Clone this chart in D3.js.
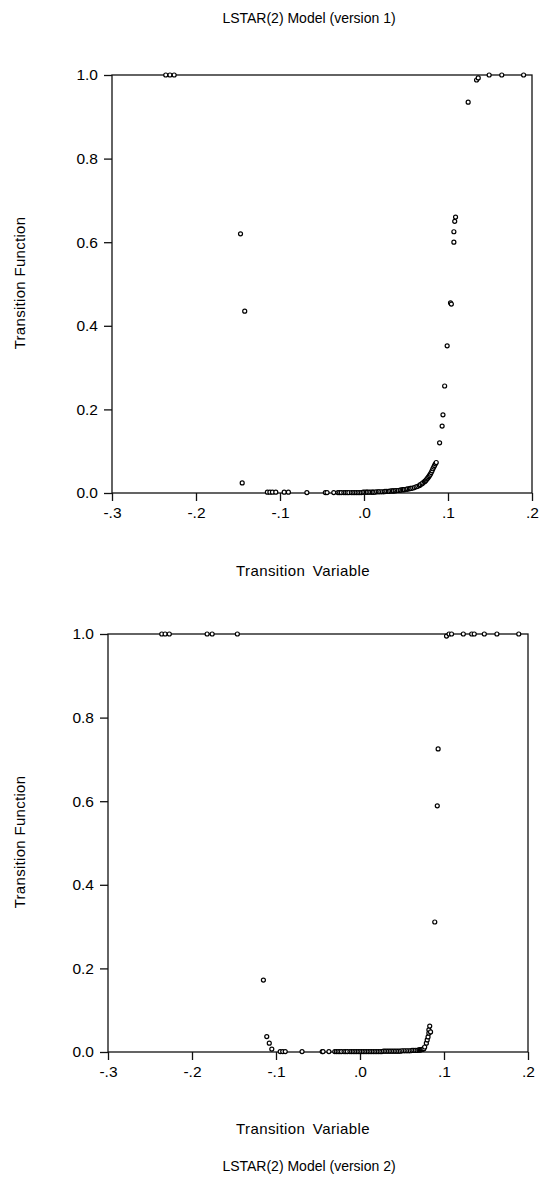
<!DOCTYPE html>
<html>
<head>
<meta charset="utf-8">
<script src="https://cdn.jsdelivr.net/npm/d3@7"></script>
<style>
  body { margin: 0; background: #fff; }
  text { font-family: "Liberation Sans", Arial, sans-serif; fill: #000; }
</style>
</head>
<body>
<div id="chart"></div>
<script>
// tick labels
var xTicks = [-0.3, -0.2, -0.1, 0.0, 0.1, 0.2];
var xTickLabels = ["-.3", "-.2", "-.1", ".0", ".1", ".2"];
var yTicks = [0.0, 0.2, 0.4, 0.6, 0.8, 1.0];
var yTickLabels = ["0.0", "0.2", "0.4", "0.6", "0.8", "1.0"];

// version 1 : transition variable / transition function
var tv1 = [-0.236, -0.231, -0.226, -0.147, -0.142, -0.145,
  -0.115, -0.112, -0.109, -0.105, -0.095, -0.090, -0.068, -0.046, -0.044, -0.036,
  -0.031, -0.029, -0.027, -0.024, -0.022, -0.020, -0.018, -0.015, -0.013, -0.011,
  -0.009, -0.007, -0.005, -0.003, -0.001, 0.001, 0.003, 0.004, 0.006, 0.008,
  0.010, 0.011, 0.013, 0.015, 0.017, 0.018, 0.020, 0.022, 0.024, 0.025,
  0.027, 0.029, 0.030, 0.032, 0.034, 0.035, 0.037, 0.038, 0.040, 0.041,
  0.043, 0.044, 0.046, 0.047, 0.048, 0.050, 0.051, 0.052, 0.054, 0.055,
  0.056, 0.058, 0.060, 0.062, 0.064, 0.066, 0.067, 0.069, 0.070, 0.072,
  0.073, 0.074, 0.075, 0.076, 0.077, 0.078, 0.079, 0.080, 0.081, 0.082,
  0.083, 0.084, 0.085, 0.086, 0.090, 0.093, 0.094, 0.096, 0.099, 0.103,
  0.104, 0.107, 0.107, 0.108, 0.109, 0.124, 0.134, 0.136, 0.149, 0.164, 0.190];
var tf1 = [1.0, 1.0, 1.0, 0.620, 0.435, 0.024,
  0.002, 0.002, 0.002, 0.002, 0.002, 0.002, 0.001, 0.001, 0.001, 0.001,
  0.001, 0.001, 0.001, 0.001, 0.001, 0.001, 0.001, 0.001, 0.001, 0.001,
  0.001, 0.001, 0.001, 0.001, 0.002, 0.002, 0.002, 0.002, 0.002, 0.002,
  0.002, 0.002, 0.002, 0.003, 0.003, 0.003, 0.003, 0.003, 0.003, 0.004,
  0.004, 0.004, 0.004, 0.005, 0.005, 0.005, 0.005, 0.006, 0.006, 0.006,
  0.007, 0.007, 0.008, 0.008, 0.008, 0.009, 0.009, 0.010, 0.010, 0.011,
  0.011, 0.012, 0.013, 0.015, 0.016, 0.018, 0.020, 0.022, 0.024, 0.027,
  0.029, 0.031, 0.034, 0.036, 0.039, 0.042, 0.045, 0.049, 0.053, 0.058,
  0.062, 0.066, 0.070, 0.073, 0.120, 0.160, 0.187, 0.256, 0.352, 0.455,
  0.452, 0.600, 0.625, 0.650, 0.660, 0.935, 0.988, 0.993, 1.0, 1.0, 1.0];

// version 2
var tv2 = [-0.236, -0.232, -0.227, -0.182, -0.176, -0.146,
  -0.115, -0.111, -0.108, -0.105, -0.095, -0.092, -0.089, -0.069, -0.045, -0.044, -0.037,
  -0.030, -0.028, -0.026, -0.024, -0.022, -0.019, -0.017, -0.015, -0.012, -0.010,
  -0.008, -0.006, -0.004, -0.002, 0.000, 0.002, 0.004, 0.006, 0.008, 0.010,
  0.012, 0.014, 0.016, 0.018, 0.020, 0.022, 0.024, 0.026, 0.028, 0.030,
  0.032, 0.034, 0.036, 0.038, 0.040, 0.042, 0.044, 0.046, 0.048, 0.050,
  0.052, 0.054, 0.056, 0.058, 0.060, 0.062, 0.064, 0.066, 0.068, 0.070,
  0.071, 0.072, 0.073, 0.074, 0.075, 0.076,
  0.077, 0.079, 0.080, 0.081, 0.082, 0.082, 0.083, 0.084,
  0.089, 0.092, 0.093,
  0.103, 0.106, 0.109, 0.123, 0.133, 0.136, 0.148, 0.163, 0.189];
var tf2 = [1.0, 1.0, 1.0, 1.0, 1.0, 1.0,
  0.172, 0.037, 0.021, 0.007, 0.001, 0.001, 0.001, 0.001, 0.001, 0.001, 0.001,
  0.001, 0.001, 0.001, 0.001, 0.001, 0.001, 0.001, 0.001, 0.001, 0.001,
  0.001, 0.001, 0.001, 0.001, 0.001, 0.001, 0.001, 0.001, 0.001, 0.001,
  0.001, 0.001, 0.001, 0.001, 0.001, 0.001, 0.001, 0.001, 0.002, 0.002,
  0.002, 0.002, 0.002, 0.002, 0.002, 0.002, 0.002, 0.002, 0.002, 0.003,
  0.003, 0.003, 0.003, 0.003, 0.003, 0.004, 0.004, 0.004, 0.004, 0.005,
  0.005, 0.005, 0.006, 0.006, 0.007, 0.008,
  0.012, 0.021, 0.029, 0.036, 0.045, 0.053, 0.062, 0.048,
  0.311, 0.589, 0.725,
  0.995, 1.0, 1.0, 1.0, 1.0, 1.0, 1.0, 1.0, 1.0];

var W = 543, H = 1191;
var svg = d3.select("#chart").append("svg")
  .attr("width", W)
  .attr("height", H)
  .style("background", "#fff");

//one scatter panel, left/top/right/bottom in px
function drawPanel(xs, ys, left, top, right, bottom) {
  var x = d3.scaleLinear().domain([-0.3, 0.2]).range([left, right]);
  var y = d3.scaleLinear().domain([0, 1]).range([bottom, top]);
  var g = svg.append("g");

  g.append("rect")
    .attr("x", left).attr("y", top)
    .attr("width", right - left).attr("height", bottom - top)
    .attr("fill", "none").attr("stroke", "#111").attr("stroke-width", 1.3);

  var xAxis = d3.axisBottom(x).tickValues(xTicks).tickSize(8).tickPadding(6)
    .tickFormat(function (d, i) { return xTickLabels[i]; });
  var yAxis = d3.axisLeft(y).tickValues(yTicks).tickSize(8).tickPadding(6)
    .tickFormat(function (d, i) { return yTickLabels[i]; });

  g.append("g").attr("transform", "translate(0," + bottom + ")").call(xAxis);
  g.append("g").attr("transform", "translate(" + left + ",0)").call(yAxis);
  g.selectAll(".domain").remove();
  g.selectAll(".tick line").attr("stroke", "#111").attr("stroke-width", 1.3);
  g.selectAll(".tick text")
    .style("font-family", "'Liberation Sans', Arial, sans-serif")
    .style("font-size", "15.5px").attr("fill", "#111");

  g.selectAll("circle.pt")
    .data(xs)
    .enter()
    .append("circle")
    .attr("class", "pt")
    .attr("cx", function (d) { return x(d); })
    .attr("cy", function (d, i) { return y(ys[i]); })
    .attr("r", 2)
    .attr("fill", "#fff")
    .attr("stroke", "#000")
    .attr("stroke-width", 1.2);
}

drawPanel(tv1, tf1, 112, 75, 532, 493);
drawPanel(tv2, tf2, 108, 634, 528, 1052);

function label(txt, x, y, rot, size, spacing, wordGap) {
  var t = svg.append("text")
    .attr("text-anchor", "middle")
    .style("font-size", size + "px")
    .style("letter-spacing", spacing + "px")
    .style("word-spacing", wordGap + "px")
    .attr("fill", "#111")
    .text(txt);
  if (rot) {
    t.attr("transform", "translate(" + x + "," + y + ") rotate(-90)");
  } else {
    t.attr("x", x).attr("y", y);
  }
}

label("LSTAR(2) Model (version 1)", 309, 23, false, 14, 0, 0);
label("Transition Function", 25, 283, true, 15, 0.3, 0);
label("Transition Variable", 303, 576, false, 15, 0.4, 3);
label("Transition Function", 25, 842, true, 15, 0.3, 0);
label("Transition Variable", 303, 1134, false, 15, 0.4, 3);
label("LSTAR(2) Model (version 2)", 309, 1171, false, 14, 0, 0);
</script>
</body>
</html>
